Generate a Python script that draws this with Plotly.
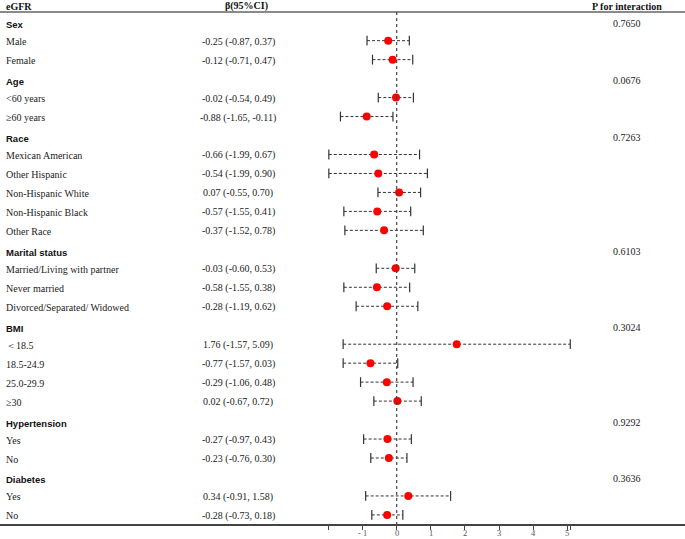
import plotly.graph_objects as go

# ---- data ----
groups = ["Sex", "Age", "Race", "Marital status", "BMI", "Hypertension", "Diabetes"]
p_interaction = ["0.7650", "0.0676", "0.7263", "0.6103", "0.3024", "0.9292", "0.3636"]
subgroups = [
    ["Male", "Female"],
    ["<60 years", "≥60 years"],
    ["Mexican American", "Other Hispanic", "Non-Hispanic White", "Non-Hispanic Black", "Other Race"],
    ["Married/Living with partner", "Never married", "Divorced/Separated/ Widowed"],
    ["＜18.5", "18.5-24.9", "25.0-29.9", "≥30"],
    ["Yes", "No"],
    ["Yes", "No"],
]
beta = [-0.25, -0.12, -0.02, -0.88, -0.66, -0.54, 0.07, -0.57, -0.37,
        -0.03, -0.58, -0.28, 1.76, -0.77, -0.29, 0.02, -0.27, -0.23, 0.34, -0.28]
lower = [-0.87, -0.71, -0.54, -1.65, -1.99, -1.99, -0.55, -1.55, -1.52,
         -0.60, -1.55, -1.19, -1.57, -1.57, -1.06, -0.67, -0.97, -0.76, -0.91, -0.73]
upper = [0.37, 0.47, 0.49, -0.11, 0.67, 0.90, 0.70, 0.41, 0.78,
         0.53, 0.38, 0.62, 5.09, 0.03, 0.48, 0.72, 0.43, 0.30, 1.58, 0.18]
tick_vals = [-1.99, -1, 0, 1, 2, 3, 4, 5, 5.09]
tick_text = ["", "- 1", "0", "1", "2", "3", "4", "5", ""]

W, H = 685, 539
SERIF = "Liberation Serif"
SANS = "Liberation Sans"

# row layout: group header row followed by its subgroup rows
group_rows, item_rows, item_labels = [], [], []
r = 0
for g, subs in zip(groups, subgroups):
    group_rows.append(r)
    r += 1
    for s in subs:
        item_rows.append(r)
        item_labels.append(s)
        r += 1

fig = go.Figure()

# dashed CI lines
ci_x, ci_y = [], []
for lo, hi, yy in zip(lower, upper, item_rows):
    ci_x += [lo, hi, None]
    ci_y += [yy, yy, None]
fig.add_trace(go.Scatter(x=ci_x, y=ci_y, mode="lines",
                         line=dict(color="#333333", width=1, dash="3px,2px"),
                         hoverinfo="skip"))
# end caps
fig.add_trace(go.Scatter(x=lower + upper, y=item_rows + item_rows, mode="markers",
                         marker=dict(symbol="line-ns", size=7,
                                     line=dict(color="#333333", width=1.2)),
                         hoverinfo="skip"))
# point estimates
fig.add_trace(go.Scatter(x=beta, y=item_rows, mode="markers",
                         marker=dict(color="#ff0000", size=8)))

row0, pitch = 21.7, 18.97
y_top = -row0 / pitch
y_bot = (524 - row0) / pitch
y_line = (12 - row0) / pitch
y_head = (6 - row0) / pitch


def px(x):
    return x / W


ann = []
# header row
top = dict(xref="paper", yref="y", y=y_head, showarrow=False,
           font=dict(family=SERIF, size=10, color="#111"))
ann.append(dict(top, x=px(4), xanchor="left", text="<b>eGFR</b>"))
ann.append(dict(top, x=px(246), xanchor="center", text="<b>β(95%CI)</b>"))
ann.append(dict(top, x=px(627), xanchor="center", text="<b>P for interaction</b>"))

for g, p, gr in zip(groups, p_interaction, group_rows):
    ann.append(dict(xref="paper", yref="y", x=px(4), y=gr, yshift=-3, xanchor="left",
                    showarrow=False, text="<b>%s</b>" % g,
                    font=dict(family=SANS, size=9.5, color="#111")))
    ann.append(dict(xref="paper", yref="y", x=px(627), y=gr, yshift=-2, xanchor="center",
                    showarrow=False, text=p,
                    font=dict(family=SERIF, size=10, color="#222")))

for lab, b, lo, hi, yy in zip(item_labels, beta, lower, upper, item_rows):
    ann.append(dict(xref="paper", yref="y", x=px(4), y=yy, yshift=-1, xanchor="left",
                    showarrow=False, text=lab,
                    font=dict(family=SERIF, size=10, color="#222")))
    ann.append(dict(xref="paper", yref="y", x=px(238), y=yy, yshift=-1, xanchor="center",
                    showarrow=False, text="%.2f (%.2f, %.2f)" % (b, lo, hi),
                    font=dict(family=SERIF, size=10, color="#222")))

# x tick labels drawn as text just under the ticks (not enough room for plotly's own)
for tv, tt in zip(tick_vals, tick_text):
    if tt:
        ann.append(dict(xref="x", yref="paper", x=tv, y=-15 / 524, yanchor="bottom",
                        showarrow=False, text=tt, borderpad=0,
                        font=dict(family=SERIF, size=8.5, color="#555555")))

shapes = [
    dict(type="line", xref="paper", yref="y", x0=0, x1=1, y0=y_line, y1=y_line,
         line=dict(color="#8a8a8a", width=2)),
    dict(type="line", xref="x", yref="y", x0=0, x1=0, y0=y_line, y1=y_bot,
         line=dict(color="#444444", width=1.2, dash="dot")),
]

x0_px, unit = 396.7, 34.1
fig.update_layout(
    width=W, height=H,
    margin=dict(l=0, r=0, t=0, b=15, autoexpand=False),
    paper_bgcolor="white", plot_bgcolor="white",
    showlegend=False,
    annotations=ann, shapes=shapes,
    xaxis=dict(range=[-x0_px / unit, (W - x0_px) / unit], showgrid=False, zeroline=False,
               automargin=False,
               showline=True, linecolor="#444444", linewidth=1.5,
               ticks="outside", ticklen=4, tickcolor="#444444", tickwidth=1,
               tickvals=tick_vals, showticklabels=False),
    yaxis=dict(range=[y_bot, y_top], showgrid=False, zeroline=False, automargin=False,
               showticklabels=False, showline=False),
)

# page body margin would shift the figure by 8px
fig.write_html("out.html", config={"displayModeBar": False},
               post_script="document.body.style.margin='0px';")
